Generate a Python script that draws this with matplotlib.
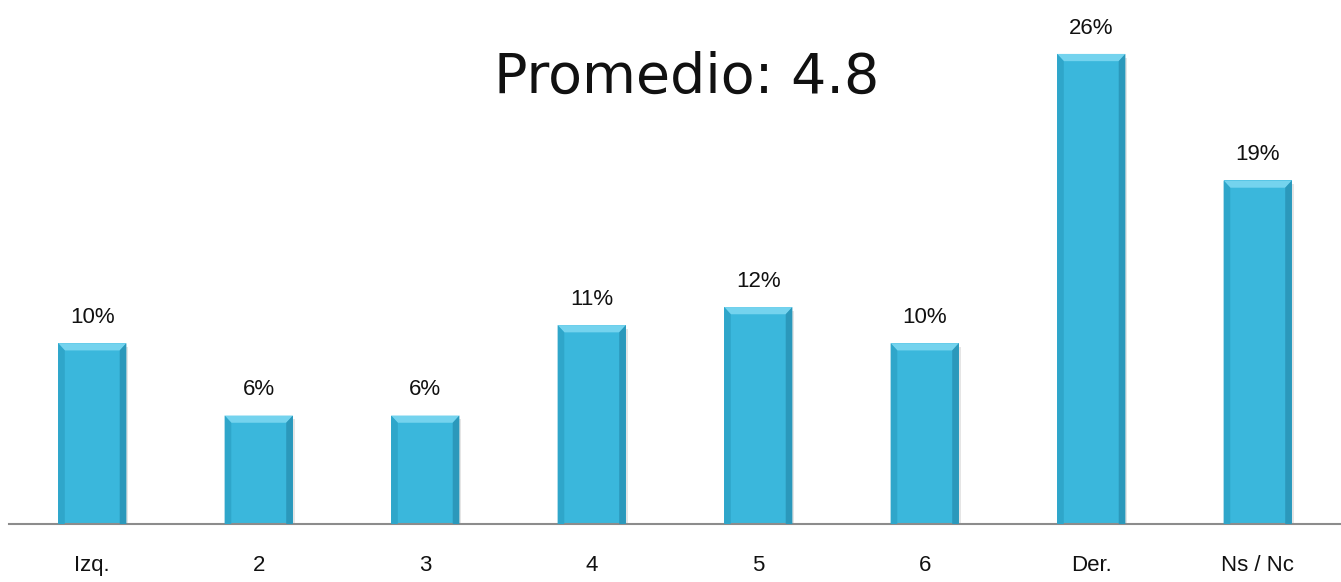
import numpy as np
import matplotlib.pyplot as plt
from matplotlib.patches import Polygon

categories = ["Izq.", "2", "3", "4", "5", "6", "Der.", "Ns / Nc"]
values = [10, 6, 6, 11, 12, 10, 26, 19]
title = "Promedio: 4.8"

plt.rcParams['font.family'] = ['Liberation Sans', 'DejaVu Sans']

fig = plt.figure(figsize=(13.41, 5.82), dpi=100)
ax = fig.add_axes([9 / 1341, 58 / 582, 1332 / 1341, 524 / 582])

x = np.arange(len(categories))
bars = ax.bar(x, values, width=0.41, color='#3ab7dc', edgecolor='none', zorder=2)

# shadow + bevel on each bar
dx, dy = 0.04, 0.4
for b in bars:
    x0, y0 = b.get_x(), b.get_y()
    w, h = b.get_width(), b.get_height()
    x1, y1 = x0 + w, y0 + h
    ax.add_patch(Polygon([(x0 + 0.01, y0 - 0.25), (x1 + 0.01, y0 - 0.25),
                          (x1 + 0.01, y1 - 0.2), (x0 + 0.01, y1 - 0.2)],
                         closed=True, fc='#000000', alpha=0.1, ec='none', zorder=1))
    # top bevel
    ax.add_patch(Polygon([(x0, y1), (x1, y1), (x1 - dx, y1 - dy), (x0 + dx, y1 - dy)],
                         closed=True, fc='#74d3ee', ec='none', zorder=3))
    # left bevel
    ax.add_patch(Polygon([(x0, y0), (x0, y1), (x0 + dx, y1 - dy), (x0 + dx, y0)],
                         closed=True, fc='#2fa6ca', ec='none', zorder=3))
    # right bevel
    ax.add_patch(Polygon([(x1, y0), (x1, y1), (x1 - dx, y1 - dy), (x1 - dx, y0)],
                         closed=True, fc='#2b98bb', ec='none', zorder=3))
    ax.text(b.get_x() + w / 2, y1 + 0.85, f"{int(h)}%", ha='center', va='bottom',
            fontsize=16, color='#111111')

ax.set_xlim(-0.5, len(categories) - 0.5)
ax.set_ylim(0, 524 / 18.08)
ax.set_xticks(x)
ax.set_xticklabels(categories, fontsize=16, color='#111111')
ax.tick_params(axis='x', length=0, pad=22)
ax.set_yticks([])
for s in ['top', 'left', 'right']:
    ax.spines[s].set_visible(False)
ax.spines['bottom'].set_color('#8c8c8c')
ax.spines['bottom'].set_linewidth(1.5)

fig.text(687 / 1341, 1 - 78 / 582, title, ha='center', va='center',
         fontsize=40, family=['DejaVu Sans'], color='#111111')

fig.savefig('out.png', dpi=100)
